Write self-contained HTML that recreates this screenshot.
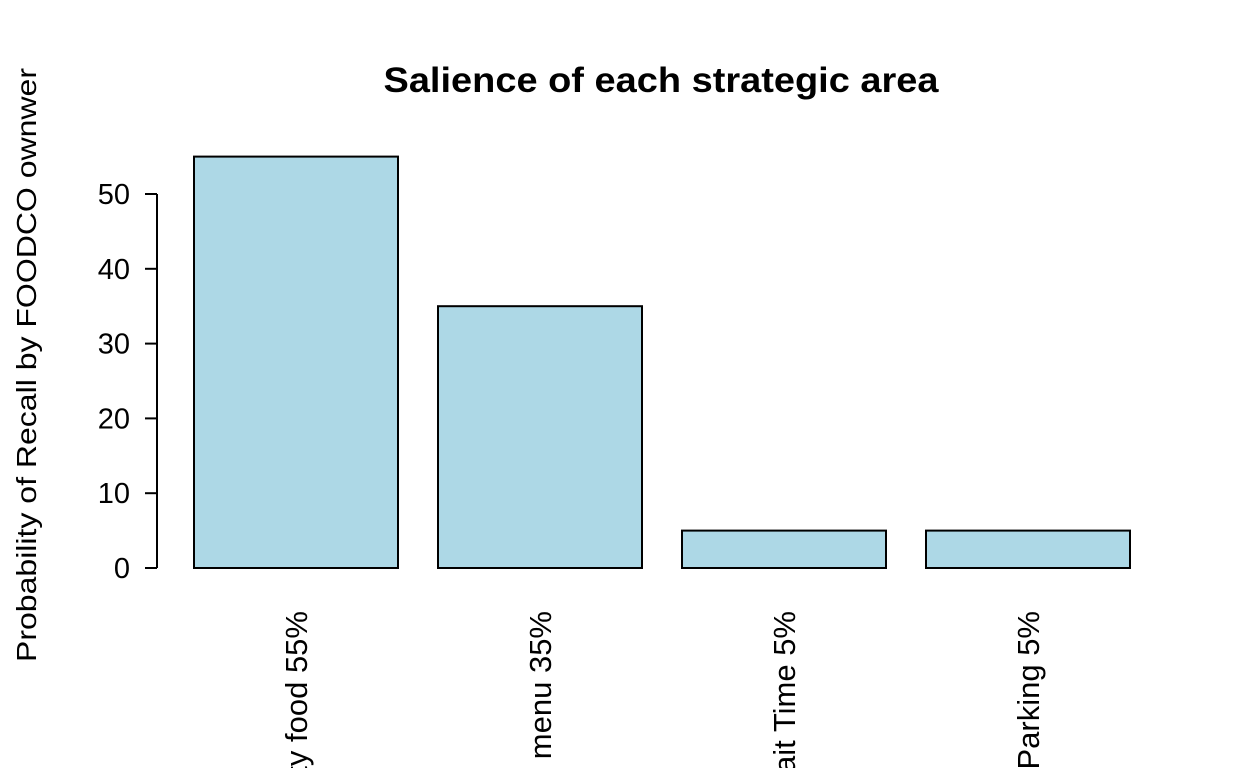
<!DOCTYPE html>
<html><head><meta charset="utf-8"><style>
html,body{margin:0;padding:0;background:#fff;overflow:hidden;width:1248px;height:768px;}
svg{display:block;font-family:"Liberation Sans",Arial,sans-serif;overflow:hidden;}
</style></head><body>
<svg id="chart" width="1248" height="768" viewBox="0 0 1248 768" xmlns="http://www.w3.org/2000/svg">
<text x="661" y="92" text-anchor="middle" font-size="35" font-weight="bold" textLength="555" lengthAdjust="spacingAndGlyphs">Salience of each strategic area</text>
<text transform="translate(36,365) rotate(-90)" text-anchor="middle" font-size="28" textLength="594" lengthAdjust="spacingAndGlyphs">Probability of Recall by FOODCO ownwer</text>
<g id="bars"></g>
<g id="yaxis"></g>
<g id="xlabels"></g>
</svg>
<script>
const categories = ["Tasty food 55%", "Varied menu 35%", "Wait Time 5%", "Parking 5%"];
const values = [55, 35, 5, 5];
const yTicks = [0, 10, 20, 30, 40, 50];

const NS = "http://www.w3.org/2000/svg";
const y0 = 568, pxPerUnit = 7.48;
const yScale = v => y0 - v * pxPerUnit;
const barStart = 194, barW = 204, step = 244;
const xScale = i => barStart + i * step;

const bars = document.getElementById('bars');
values.forEach((v, i) => {
  const r = document.createElementNS(NS, 'rect');
  
  
  r.setAttribute('x', xScale(i));
  r.setAttribute('y', yScale(v));
  r.setAttribute('width', barW);
  r.setAttribute('height', y0 - yScale(v));
  r.setAttribute('fill', '#add8e6');
  r.setAttribute('stroke', '#000');
  r.setAttribute('stroke-width', '2');
  bars.appendChild(r);
});

const ya = document.getElementById('yaxis');
const axisLine = document.createElementNS(NS, 'line');


axisLine.setAttribute('x1', 157); axisLine.setAttribute('x2', 157);
axisLine.setAttribute('y1', yScale(yTicks[0])); axisLine.setAttribute('y2', yScale(yTicks[yTicks.length - 1]));
axisLine.setAttribute('stroke', '#000'); axisLine.setAttribute('stroke-width', '2');
ya.appendChild(axisLine);
yTicks.forEach(t => {
  const l = document.createElementNS(NS, 'line');
  
  
  l.setAttribute('x1', 145); l.setAttribute('x2', 157);
  l.setAttribute('y1', yScale(t)); l.setAttribute('y2', yScale(t));
  l.setAttribute('stroke', '#000'); l.setAttribute('stroke-width', '2');
  ya.appendChild(l);
  const tx = document.createElementNS(NS, 'text');
  
  
  tx.setAttribute('x', 130); tx.setAttribute('y', yScale(t) + 10);
  tx.setAttribute('text-anchor', 'end'); tx.setAttribute('font-size', '29');
  tx.textContent = t;
  ya.appendChild(tx);
});

const xl = document.getElementById('xlabels');
categories.forEach((c, i) => {
  const cx = xScale(i) + barW / 2 + 11;
  const tx = document.createElementNS(NS, 'text');
  
  
  tx.setAttribute('transform', 'translate(' + cx + ',611) rotate(-90)');
  tx.setAttribute('text-anchor', 'end'); tx.setAttribute('font-size', '31');
  tx.textContent = c;
  xl.appendChild(tx);
});
</script>
</body></html>
